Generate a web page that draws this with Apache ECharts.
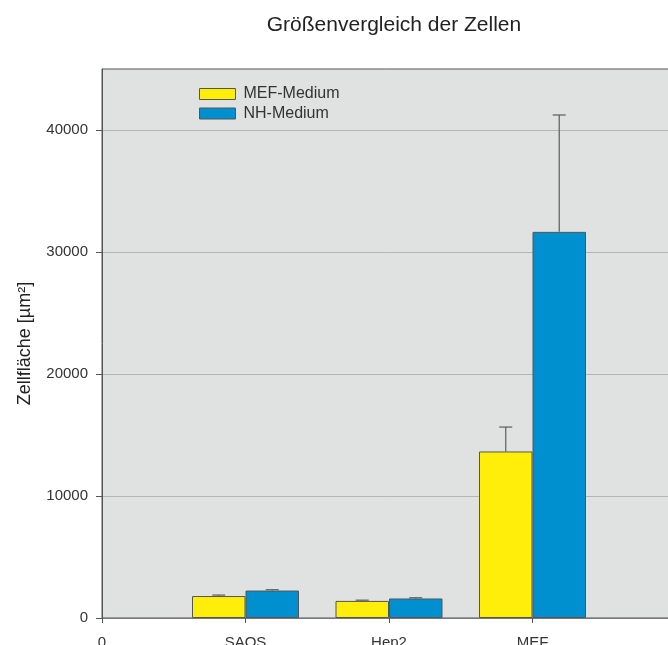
<!DOCTYPE html>
<html>
<head>
<meta charset="utf-8">
<script src="https://cdn.jsdelivr.net/npm/echarts@6/dist/echarts.min.js"></script>
<style>
    html, body { margin: 0; padding: 0; background: #fff; }
    #chart { width: 668px; height: 645px; }
</style>
</head>
<body>
<div id="chart"></div>
<script>
// Kategorien (Position 0 trägt nur die Beschriftung "0")
var categories = ['0', 'SAOS', 'Hep2', 'MEF', ''];
var seriesNames = ['MEF-Medium', 'NH-Medium'];
var mefMedium = ['-', 1800, 1400, 13650, '-'];
var nhMedium = ['-', 2250, 1600, 31650, '-'];
var mefMediumErr = ['-', 80, 60, 2000, '-'];
var nhMediumErr = ['-', 70, 60, 9580, '-'];
var yTicks = [0, 10000, 20000, 30000, 40000];

var BAR_W = 53.5;

var chart = echarts.init(document.getElementById('chart'), null, {renderer: 'canvas'});

// Fehlerbalken (nur nach oben sichtbar)
function errorData(values, errs) {
    var out = [];
    for (var i = 0; i < values.length; i++) {
        if (values[i] === '-') continue;
        out.push([i, values[i], values[i] + errs[i]]);
    }
    return out;
}

function errorRender(offset) {
    return function (params, api) {
        var lo = api.coord([api.value(0), api.value(1)]);
        var hi = api.coord([api.value(0), api.value(2)]);
        var x = lo[0] + offset;
        var style = {stroke: '#666', lineWidth: 1.3};
        return {
            type: 'group',
            children: [
                {type: 'line', shape: {x1: x, y1: lo[1], x2: x, y2: hi[1]}, style: style},
                {type: 'line', shape: {x1: x - 6.5, y1: hi[1], x2: x + 6.5, y2: hi[1]}, style: style}
            ]
        };
    };
}

var option = {
    backgroundColor: '#fff',
    textStyle: {fontFamily: 'Liberation Sans, Arial, sans-serif'},
    title: {
        text: 'Größenvergleich der Zellen',
        left: 389,
        top: 10,
        textAlign: 'center',
        textStyle: {fontSize: 21, fontWeight: 'normal', color: '#222'}
    },
    legend: {
        left: 194,
        top: 81,
        orient: 'vertical',
        itemWidth: 36,
        itemHeight: 11,
        itemGap: 3.5,
        icon: 'rect',
        selectedMode: false,
        data: seriesNames,
        textStyle: {fontSize: 16, lineHeight: 16, color: '#333', padding: [0, 0, 0, 3]},
        itemStyle: {borderColor: '#555', borderWidth: 1}
    },
    grid: {
        left: 102,
        top: 69,
        width: 574,
        height: 549,
        outerBoundsMode: 'none',
        containLabel: false,
        show: true,
        backgroundColor: '#e0e1e1',
        borderColor: '#555',
        borderWidth: 1
    },
    xAxis: {
        type: 'category',
        data: categories,
        boundaryGap: false,
        axisLine: {show: true, lineStyle: {color: '#777', width: 1}},
        axisTick: {show: true, length: 5, inside: false, lineStyle: {color: '#555'}},
        axisLabel: {fontSize: 15, color: '#333', margin: 17, interval: 0},
        splitLine: {show: false}
    },
    yAxis: {
        type: 'value',
        min: 0,
        max: 45000,
        interval: 10000,
        name: 'Zellfläche [µm²]',
        nameLocation: 'middle',
        nameGap: 68,
        nameTextStyle: {fontSize: 18, color: '#222'},
        axisLine: {show: true, lineStyle: {color: '#555'}},
        axisTick: {show: true, length: 6, lineStyle: {color: '#555'}, customValues: yTicks},
        axisLabel: {
            fontSize: 15, color: '#333', margin: 14, customValues: yTicks,
            formatter: function (v) { return String(v); }
        },
        splitLine: {show: true, lineStyle: {color: '#b4b5b5', width: 1}}
    },
    series: [
        {
            name: seriesNames[0],
            type: 'bar',
            data: mefMedium,
            barWidth: BAR_W,
            barGap: '0%',
            itemStyle: {color: '#ffee0a', borderColor: '#555', borderWidth: 1},
            z: 3
        },
        {
            name: seriesNames[1],
            type: 'bar',
            data: nhMedium,
            barWidth: BAR_W,
            barGap: '0%',
            itemStyle: {color: '#0090d0', borderColor: '#555', borderWidth: 1},
            z: 3
        },
        {
            type: 'custom',
            data: errorData(mefMedium, mefMediumErr),
            renderItem: errorRender(-BAR_W / 2),
            z: 2,
            silent: true
        },
        {
            type: 'custom',
            data: errorData(nhMedium, nhMediumErr),
            renderItem: errorRender(BAR_W / 2),
            z: 2,
            silent: true
        }
    ]
};
chart.setOption(option);
</script>
</body>
</html>
